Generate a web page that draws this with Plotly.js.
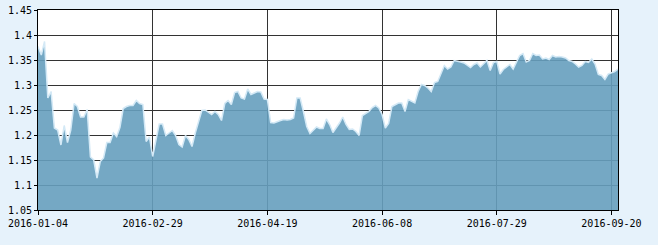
<!DOCTYPE html>
<html>
<head>
<meta charset="utf-8">
<script src="https://cdn.plot.ly/plotly-3.0.1.min.js"></script>
<style>html,body{margin:0;padding:0;background:#e6f2fb;}#chart{width:658px;height:245px;}</style>
</head>
<body>
<div id="chart"></div>
<script>
// Trading calendar (SSE 2016), first and last trading day shown, and market holidays
const firstDay = '2016-01-04';
const lastDay = '2016-09-22';
const holidays = ['2016-02-08','2016-02-09','2016-02-10','2016-02-11','2016-02-12',
  '2016-04-04','2016-05-02','2016-06-09','2016-06-10','2016-09-15','2016-09-16'];

// Net value series (one value per trading day)
const navValues = [
  1.377,1.360,1.387,1.274,1.287,1.214,1.210,1.180,1.219,1.185,
  1.210,1.263,1.257,1.236,1.236,1.251,1.156,1.150,1.114,1.147,
  1.154,1.185,1.185,1.204,1.197,1.215,1.253,1.257,1.259,1.259,
  1.269,1.263,1.261,1.187,1.196,1.157,1.190,1.222,1.222,1.199,
  1.204,1.209,1.199,1.181,1.176,1.199,1.191,1.177,1.204,1.227,
  1.249,1.250,1.245,1.241,1.247,1.241,1.229,1.263,1.269,1.261,
  1.285,1.287,1.274,1.272,1.292,1.281,1.284,1.287,1.286,1.272,
  1.271,1.225,1.224,1.227,1.229,1.231,1.230,1.231,1.234,1.274,
  1.274,1.247,1.217,1.203,1.209,1.216,1.213,1.213,1.232,1.221,
  1.205,1.214,1.224,1.236,1.221,1.211,1.212,1.207,1.199,1.239,
  1.243,1.247,1.255,1.259,1.254,1.241,1.214,1.223,1.257,1.261,
  1.264,1.264,1.247,1.271,1.267,1.264,1.287,1.301,1.299,1.294,
  1.287,1.305,1.307,1.325,1.339,1.332,1.336,1.349,1.348,1.346,
  1.344,1.339,1.335,1.341,1.344,1.336,1.342,1.349,1.329,1.345,
  1.347,1.322,1.331,1.336,1.341,1.332,1.347,1.359,1.363,1.346,
  1.349,1.363,1.359,1.360,1.352,1.354,1.351,1.359,1.356,1.357,
  1.356,1.354,1.349,1.347,1.342,1.336,1.339,1.347,1.345,1.352,
  1.342,1.321,1.319,1.311,1.322,1.325,1.327,1.332
];

// Axis tick labels
const xTickDates = ['2016-01-04','2016-02-29','2016-04-19','2016-06-08','2016-07-29','2016-09-20'];
const yTickValues = [1.05,1.1,1.15,1.2,1.25,1.3,1.35,1.4,1.45];
const yTickLabels = ['1.05','1.1','1.15','1.2','1.25','1.3','1.35','1.4','1.45'];

function buildTradingDays(from, to, closed) {
  const out = [];
  const d = new Date(from + 'T00:00:00Z');
  const end = new Date(to + 'T00:00:00Z');
  while (d <= end) {
    const wd = d.getUTCDay();
    const s = d.toISOString().slice(0, 10);
    if (wd !== 0 && wd !== 6 && closed.indexOf(s) < 0) out.push(s);
    d.setUTCDate(d.getUTCDate() + 1);
  }
  return out;
}
const dates = buildTradingDays(firstDay, lastDay, holidays);
const n = Math.min(dates.length, navValues.length);

const trace = {
  type: 'scatter',
  mode: 'lines',
  x: dates.slice(0, n),
  y: navValues.slice(0, n),
  fill: 'tozeroy',
  fillcolor: 'rgba(102,158,190,0.9)',
  line: {color: '#d4e9f6', width: 1.5},
  hoverinfo: 'skip'
};

const axisFont = {family: '"DejaVu Sans Mono", "Liberation Mono", monospace', size: 10, color: '#000'};

const layout = {
  width: 658, height: 245,
  paper_bgcolor: '#e6f2fb',
  plot_bgcolor: '#ffffff',
  margin: {l: 38, r: 40, t: 10, b: 35, pad: 0},
  showlegend: false,
  xaxis: {
    type: 'category',
    range: [0, n - 1],
    tickmode: 'array',
    tickvals: xTickDates,
    ticktext: xTickDates,
    showgrid: true, gridcolor: '#333333', gridwidth: 1,
    showline: true, linecolor: '#000', linewidth: 1, mirror: true,
    ticks: 'outside', ticklen: 4, tickcolor: '#000',
    tickfont: axisFont,
    zeroline: false, fixedrange: true
  },
  yaxis: {
    range: [1.05, 1.45],
    tickmode: 'array',
    tickvals: yTickValues,
    ticktext: yTickLabels,
    showgrid: true, gridcolor: '#333333', gridwidth: 1,
    showline: true, linecolor: '#000', linewidth: 1, mirror: true,
    ticks: 'outside', ticklen: 3, tickcolor: '#000',
    tickfont: axisFont,
    zeroline: false, fixedrange: true
  }
};

Plotly.newPlot('chart', [trace], layout, {displayModeBar: false, staticPlot: true});
</script>
</body>
</html>
